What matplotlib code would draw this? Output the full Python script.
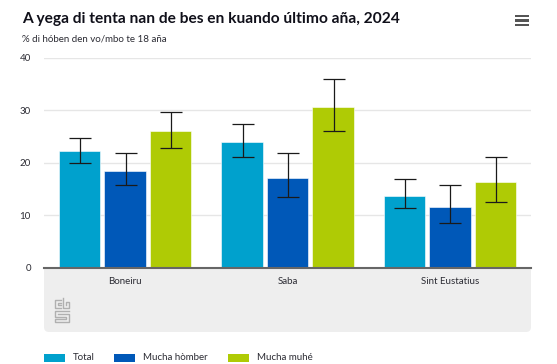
import numpy as np
import matplotlib
matplotlib.use("Agg")
import matplotlib.pyplot as plt
from matplotlib.patches import FancyBboxPatch, Rectangle

W, H = 557, 364

islands = ["Boneiru", "Saba", "Sint Eustatius"]
series = ["Total", "Mucha hòmber", "Mucha muhé"]
total = [22.1, 23.9, 13.6]
total_low = [20.0, 21.0, 11.3]
total_high = [24.6, 27.4, 16.9]
men = [18.4, 17.0, 11.6]
men_low = [15.7, 13.4, 8.5]
men_high = [21.8, 21.8, 15.7]
women = [26.0, 30.5, 16.2]
women_low = [22.8, 26.0, 12.4]
women_high = [29.6, 35.9, 21.1]
colors = ["#00a1cd", "#0058b8", "#afcb05"]
yticks = [0, 10, 20, 30, 40]

plt.rcParams['font.family'] = ['Lato', 'DejaVu Sans']
text_col = "#2b2b33"


def px(x, y):
    # pixel position from top left -> figure fraction
    return x / W, 1 - y / H


fig = plt.figure(figsize=(W / 100, H / 100), dpi=100)
ax = fig.add_axes([44 / W, 1 - 267.5 / H, 487 / W, 210 / H])
ax.set_xlim(-0.5, 2.5)
ax.set_ylim(0, 40)

# grey panel under the axis
panel = FancyBboxPatch((48, H - 328), 479, 56, boxstyle="round,pad=4,rounding_size=5",
                       transform=None, fc="#eeeeee", ec="none", zorder=0)
fig.add_artist(panel)
fig.add_artist(Rectangle((44, H - 274), 487, 6, transform=None, fc="#eeeeee", ec="none", zorder=0))

x = np.arange(3)
step = 0.28
width = 0.256
data = [(total, total_low, total_high), (men, men_low, men_high), (women, women_low, women_high)]
for i, (vals, low, high) in enumerate(data):
    pos = x + (i - 1) * step
    ax.bar(pos, vals, width, color=colors[i], edgecolor="white", linewidth=0.4, zorder=2)
    err = [np.array(vals) - np.array(low), np.array(high) - np.array(vals)]
    ax.errorbar(pos + 0.004, vals, yerr=err, fmt="none", ecolor="#1a1a1a", elinewidth=0.9,
                capsize=7.6, capthick=0.9, zorder=3)

ax.set_yticks(yticks)
ax.set_xticks(x)
ax.set_xticklabels(islands, fontsize=7, color=text_col)
ax.tick_params(axis="x", length=0, pad=6.5)
ax.tick_params(axis="y", length=0, pad=9.5, labelsize=7, labelcolor=text_col)
ax.grid(axis="y", color="#e6e6e6", linewidth=1)
ax.set_axisbelow(True)
for s in ["top", "left", "right"]:
    ax.spines[s].set_visible(False)
ax.spines["bottom"].set_color("#666666")
ax.spines["bottom"].set_linewidth(1.5)
ax.patch.set_alpha(0)

# title, subtitle
fig.text(*px(22, 22.5), "A yega di tenta nan de bes en kuando último aña, 2024", fontsize=11.2,
         fontweight="bold", color="#10101a", ha="left", va="baseline")
fig.text(*px(22.5, 42), "% di hóben den vo/mbo te 18 aña", fontsize=7, color=text_col,
         ha="left", va="baseline")

# menu icon
for yy in [16, 20.5, 25]:
    fig.add_artist(Rectangle((515, H - yy - 1.25), 14, 2.5, transform=None, fc="#555555", ec="none"))

# cbs logo
logo = [
    [(61, 300), (55, 300), (55, 308), (61, 308)],
    [(61, 303), (58, 303), (58, 305), (61, 305)],
    [(63, 298), (63, 308), (69, 308), (69, 302), (66, 302), (66, 305)],
    [(69, 311), (55, 311), (55, 317), (66, 317), (66, 319), (55, 319), (55, 322), (69, 322),
     (69, 314), (58, 314)],
]
for seg in logo:
    seg = np.array(seg, dtype=float)
    fig.add_artist(plt.Line2D(seg[:, 0] / W, 1 - seg[:, 1] / H, color="#b0b0b0", linewidth=1.0))

# legend
legend_x = [44, 114, 228]
for lx, name, c in zip(legend_x, series, colors):
    fig.add_artist(Rectangle((lx, H - 362), 21, 8.5, transform=None, fc=c, ec="none"))
    fig.text(*px(lx + 29, 360.5), name, fontsize=7, color=text_col, ha="left", va="baseline")

fig.savefig("out.png", dpi=100)
